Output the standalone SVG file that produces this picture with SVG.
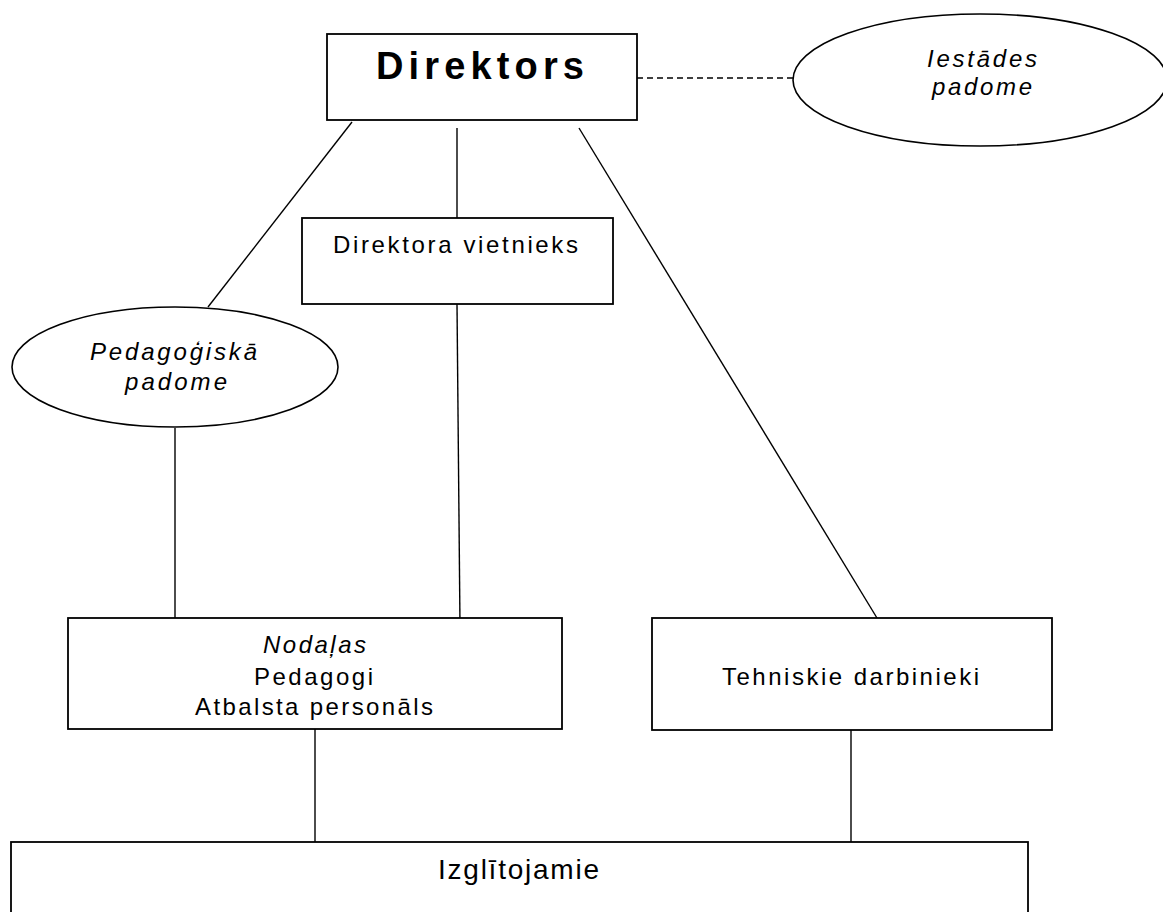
<svg xmlns="http://www.w3.org/2000/svg" width="1163" height="912" viewBox="0 0 1163 912">
<style>
.box{fill:#fff;stroke:#000;stroke-width:1.8}
.ell{fill:#fff;stroke:#000;stroke-width:1.6}
.ln{stroke:#000;stroke-width:1.4;fill:none}
.dash{stroke:#000;stroke-width:1.4;stroke-dasharray:6 4;fill:none}
text{font-family:"Liberation Sans",Arial,sans-serif;font-size:24px;fill:#000}
.it{font-style:italic}
.b{font-weight:bold;font-size:38px}
</style>
<rect width="1163" height="912" fill="#fff"/>
<g id="connectors">
<line class="dash" x1="637" y1="78" x2="793" y2="78"/>
<line class="ln" x1="352" y1="122" x2="208" y2="307"/>
<line class="ln" x1="457" y1="128" x2="457" y2="218"/>
<line class="ln" x1="579" y1="128" x2="877" y2="618"/>
<line class="ln" x1="457" y1="304" x2="460" y2="626"/>
<line class="ln" x1="175" y1="428" x2="175" y2="618"/>
<line class="ln" x1="315" y1="729" x2="315" y2="842"/>
<line class="ln" x1="851" y1="730" x2="851" y2="842"/>
</g>
<g id="direktors">
<rect class="box" x="327" y="34" width="310" height="86"/>
<text class="b" x="376" y="79" textLength="208" lengthAdjust="spacing">Direktors</text>
</g>
<g id="iestades-padome">
<ellipse class="ell" cx="980" cy="80" rx="187" ry="66"/>
<text class="it" x="927" y="67" textLength="110" lengthAdjust="spacing">Iestādes</text>
<text class="it" x="932" y="95" textLength="100" lengthAdjust="spacing">padome</text>
</g>
<g id="direktora-vietnieks">
<rect class="box" x="302" y="218" width="311" height="86"/>
<text x="333" y="253" textLength="245" lengthAdjust="spacing">Direktora  vietnieks</text>
</g>
<g id="pedagogiska-padome">
<ellipse class="ell" cx="175" cy="367" rx="163" ry="60"/>
<text class="it" x="90" y="360" textLength="167" lengthAdjust="spacing">Pedagoģiskā</text>
<text class="it" x="125" y="390" textLength="102" lengthAdjust="spacing">padome</text>
</g>
<g id="nodalas">
<rect class="box" x="68" y="618" width="494" height="111"/>
<text class="it" x="263" y="653" textLength="103" lengthAdjust="spacing">Nodaļas</text>
<text x="254" y="685" textLength="119" lengthAdjust="spacing">Pedagogi</text>
<text x="195" y="715" textLength="238" lengthAdjust="spacing">Atbalsta personāls</text>
</g>
<g id="tehniskie-darbinieki">
<rect class="box" x="652" y="618" width="400" height="112"/>
<text x="722" y="685" textLength="257" lengthAdjust="spacing">Tehniskie darbinieki</text>
</g>
<g id="izglitojamie">
<rect class="box" x="11" y="842" width="1017" height="90"/>
<text x="438" y="879" style="font-size:28px" textLength="161" lengthAdjust="spacing">Izglītojamie</text>
</g>
</svg>
